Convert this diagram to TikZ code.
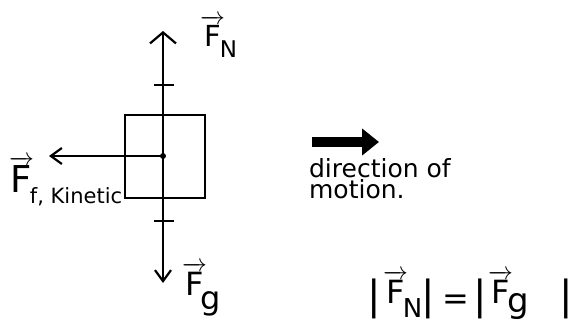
\documentclass[tikz,border=0pt]{standalone}
\usepackage{amsmath}
\usepackage{fontspec}
\setmainfont{DejaVu Sans}
\usetikzlibrary{arrows.meta}
% [#1] kern, #2 size of F, #3 size of subscript, #4 drop of subscript, #5 subscript
\newcommand{\vF}[5][0pt]{{\fontsize{#2}{#2}\selectfont$\overrightarrow{\text{F}}$}\kern#1\raisebox{-#4}{\fontsize{#3}{#3}\selectfont #5}}
\newcommand{\barf}{\fontsize{40}{40}\selectfont}
\newcommand{\putat}[2]{\rlap{\hspace*{#1}#2}}
\begin{document}
\begin{tikzpicture}[x=1pt,y=-1pt, line width=2.2pt,
  barbw/.style={-{Straight Barb[length=11pt,width=26pt,line width=2.2pt]}},
  barb/.style={-{Straight Barb[length=11pt,width=16pt,line width=2.2pt]}},
  lbl/.style={inner sep=0pt, font=\fontsize{28}{30}\selectfont},
  txt/.style={inner sep=0pt, align=left, font=\fontsize{25}{21}\selectfont}]
\useasboundingbox (0,0) rectangle (573,324);
\node[draw, minimum width=80pt, minimum height=83pt, inner sep=0pt] (box) at (165,156.5) {};
\node[circle, fill, inner sep=0pt, minimum size=6pt] (c) at (163,156) {};
\coordinate (top) at (163,31);
\coordinate (bot) at (163,283);
\coordinate (left) at (49,156);
\coordinate (t1) at (164,85);
\coordinate (t2) at (164,221);
\draw[barbw] (c.center) -- (top);
\draw[barb] (c.center) -- (bot);
\draw[barb] (c.center) -- (left);
\draw ([xshift=-10pt]t1) -- ([xshift=10pt]t1);
\draw ([xshift=-10pt]t2) -- ([xshift=10pt]t2);
\node[lbl, anchor=base west] (fn) at (199,46) {\vF[-5pt]{29}{23}{11pt}{N}};
\node[lbl, anchor=base west] (ff) at (8,192) {\vF[-4pt]{37}{21}{11pt}{f, Kinetic}};
\node[lbl, anchor=base west] (fg) at (181,295) {\vF[-6pt]{32}{32}{14pt}{g}};
\coordinate (ms) at (312,142);
\coordinate (me) at (379,142);
\draw[line width=10pt, -{Triangle[length=17pt,width=26pt]}] (ms) -- (me);
\node[txt, anchor=base west] (dir) at (308,198) {direction of\\motion.};
\node[lbl, anchor=base west] (eq) at (360,309) {%
\putat{13pt}{\makebox[0pt]{\barf|}}%
\putat{22pt}{\raisebox{6pt}{\vF[-5pt]{32}{26}{14pt}{N}}}%
\putat{67pt}{\makebox[0pt]{\barf|}}%
\putat{95pt}{\makebox[0pt]{\fontsize{32}{32}\selectfont=}}%
\putat{119pt}{\makebox[0pt]{\barf|}}%
\putat{127pt}{\raisebox{6pt}{\vF[-5pt]{32}{34}{9pt}{g}}}%
\putat{205pt}{\makebox[0pt]{\barf|}}%
\hspace*{208pt}};
\end{tikzpicture}
\end{document}
